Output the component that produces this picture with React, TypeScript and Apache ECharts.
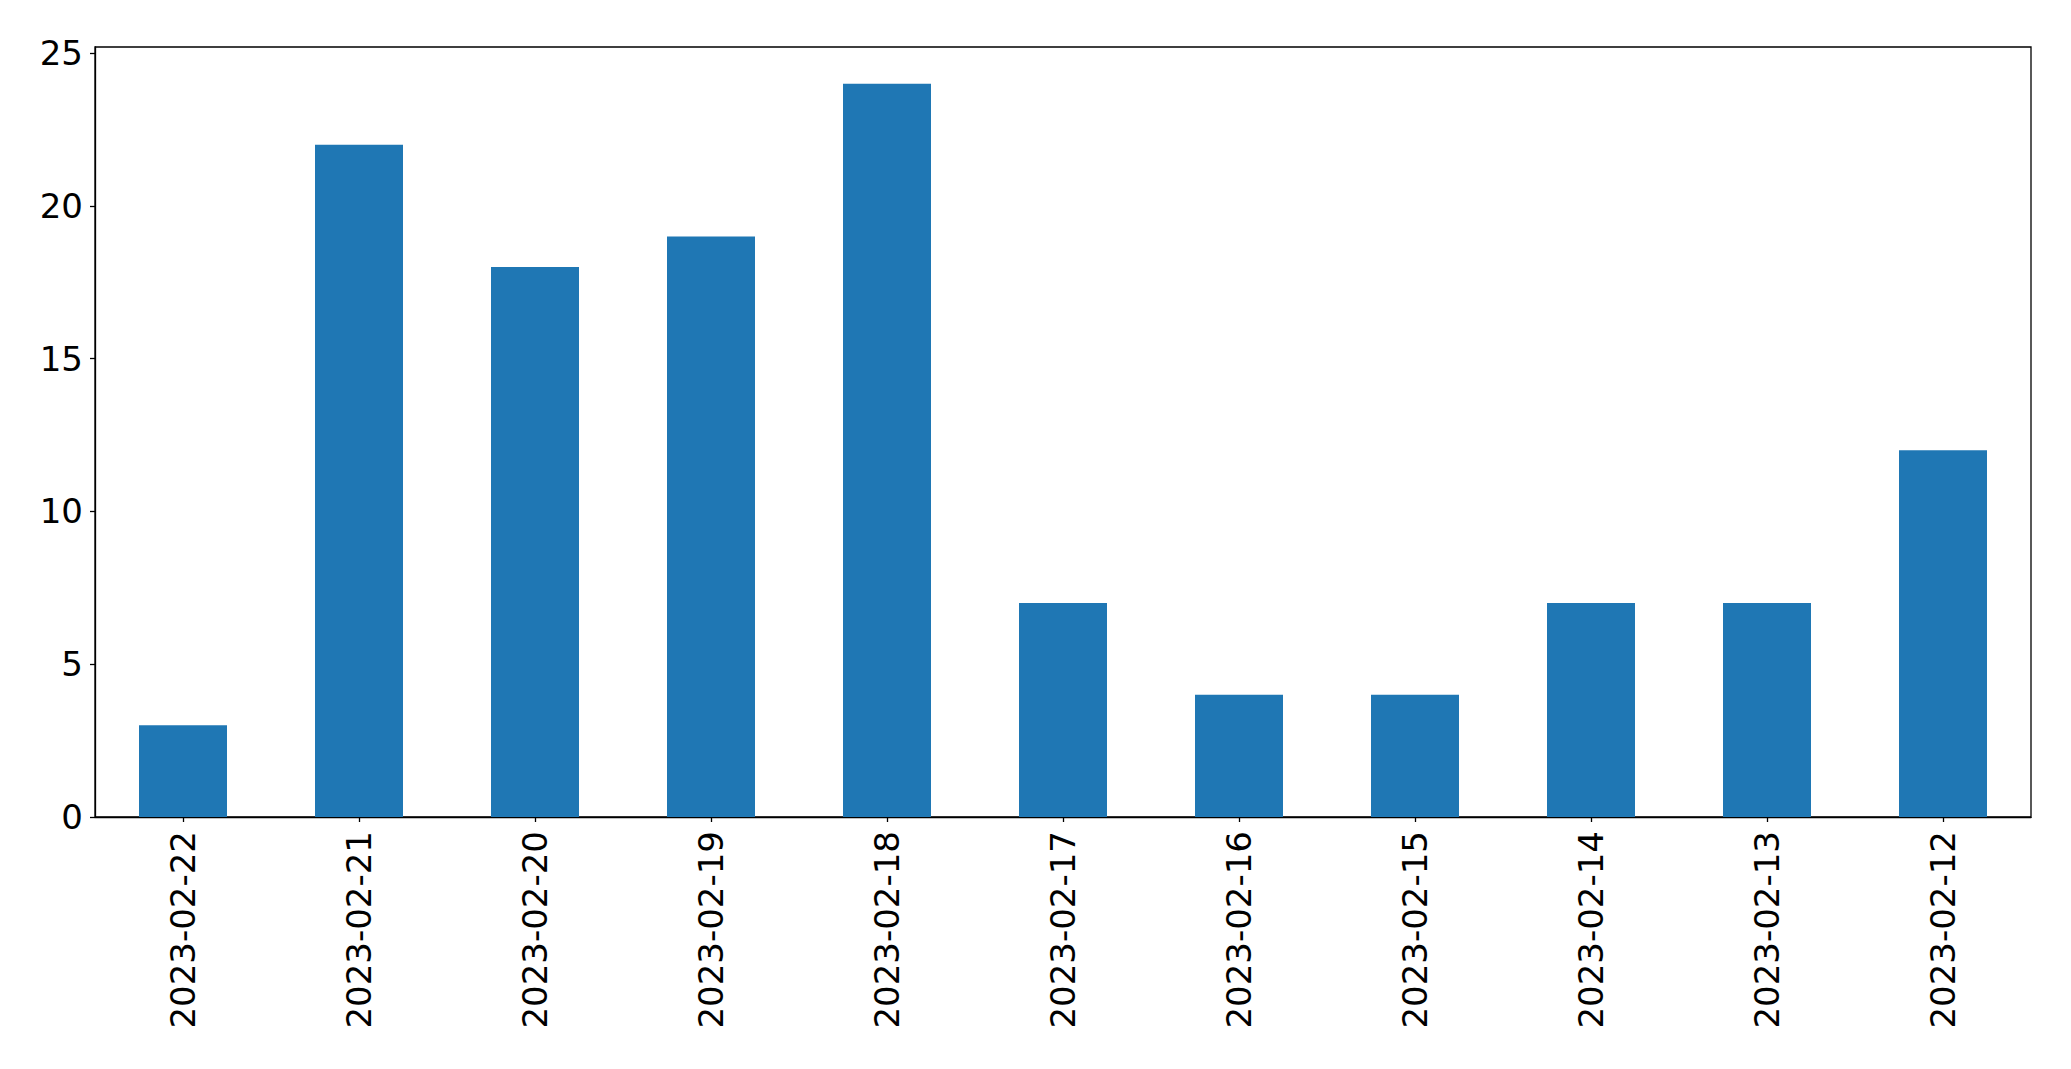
import React, { useEffect, useRef } from "react";
import * as echarts from "echarts";

const categories = [
  "2023-02-22", "2023-02-21", "2023-02-20", "2023-02-19", "2023-02-18", "2023-02-17",
  "2023-02-16", "2023-02-15", "2023-02-14", "2023-02-13", "2023-02-12",
];
const values = [3, 22, 18, 19, 24, 7, 4, 4, 7, 7, 12];
const yTicks = [0, 5, 10, 15, 20, 25];
const yMax = 25.2;

export default function App() {
  const ref = useRef<HTMLDivElement>(null);
  useEffect(() => {
    if (!ref.current) return;
    const chart = echarts.init(ref.current, null, { renderer: "svg" });
    const font = "DejaVu Sans";
    chart.setOption({
      animation: false,
      backgroundColor: "#ffffff",
      grid: {
        left: 95, top: 47, width: 1936, height: 770,
        show: true, borderColor: "#000000", borderWidth: 1.3, backgroundColor: "transparent",
      },
      xAxis: {
        type: "category",
        data: categories,
        boundaryGap: true,
        axisLine: { show: true, lineStyle: { color: "#000000", width: 1.3 } },
        axisTick: { show: true, alignWithLabel: true, length: 5, lineStyle: { color: "#000000", width: 1.3 } },
        axisLabel: { rotate: 90, color: "#000000", fontFamily: font, fontSize: 34, margin: 14 },
        splitLine: { show: false },
      },
      yAxis: {
        type: "value",
        min: 0,
        max: yMax,
        axisLine: { show: true, lineStyle: { color: "#000000", width: 1.3 } },
        axisTick: { show: true, length: 5, customValues: yTicks, lineStyle: { color: "#000000", width: 1.3 } },
        axisLabel: { color: "#000000", fontFamily: font, fontSize: 34, margin: 12, customValues: yTicks },
        splitLine: { show: false },
      },
      series: [
        {
          type: "bar",
          data: values,
          barWidth: "50%",
          itemStyle: { color: "#1f77b4" },
        },
      ],
    });
    return () => chart.dispose();
  }, []);
  return (
    <div
      ref={ref}
      style={{ position: "fixed", left: 0, top: 0, width: 2071, height: 1069, background: "#fff" }}
    />
  );
}
